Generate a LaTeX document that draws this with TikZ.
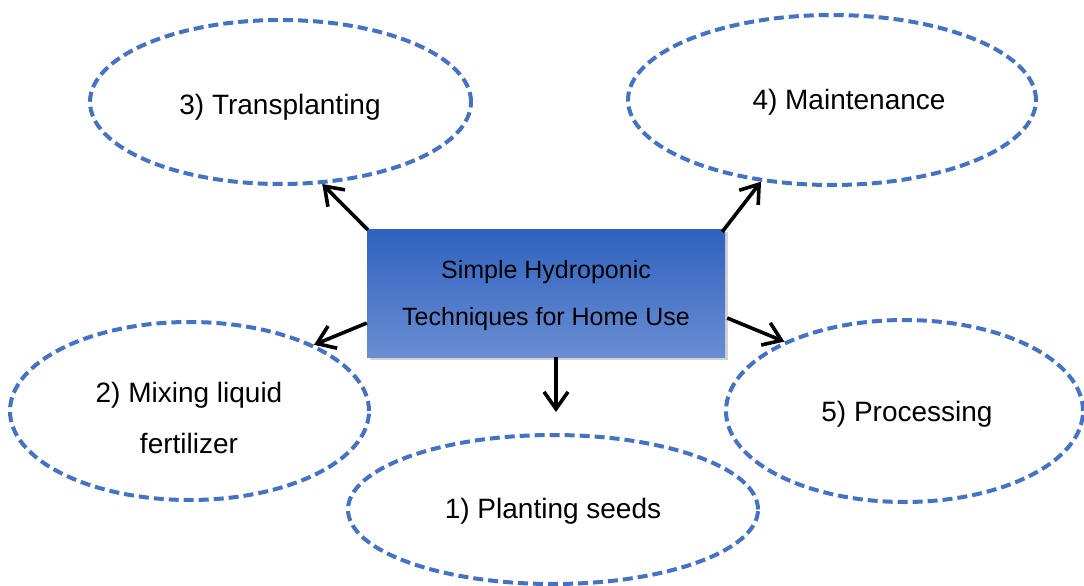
\documentclass[tikz,border=0pt]{standalone}
\usepackage{fontspec}
\setmainfont{Liberation Sans}
\usetikzlibrary{arrows.meta,shapes.geometric,shadows}
\definecolor{dashblue}{HTML}{4472C4}
\definecolor{boxtop}{HTML}{2E62BE}
\definecolor{boxbot}{HTML}{6A8DD3}
\tikzset{
  oval/.style={ellipse, draw=dashblue, line width=4pt, dash pattern=on 10pt off 5pt, inner sep=0pt},
  lbl/.style={anchor=base, align=center, font=\fontsize{28}{51}\selectfont, inner sep=0pt},
  centerbox/.style={rectangle, inner sep=0pt, top color=boxtop, bottom color=boxbot,
    drop shadow={shadow xshift=2.5pt, shadow yshift=-3pt, opacity=0.35}},
  ctext/.style={anchor=base, align=center, font=\fontsize{25}{47}\selectfont, inner sep=0pt},
  arr/.style={line width=3.6pt, -{Straight Barb[length=17pt,width=24pt,line width=3.6pt]}}
}
\begin{document}
\begin{tikzpicture}[x=1pt,y=-1pt]
\useasboundingbox (0,0) rectangle (1084,586);
% ellipses
\node[oval, minimum width=381pt, minimum height=164pt] (trans) at (280.5,102) {};
\node[oval, minimum width=408pt, minimum height=170pt] (maint) at (832,100) {};
\node[oval, minimum width=359pt, minimum height=178pt] (mix) at (189.5,411) {};
\node[oval, minimum width=357pt, minimum height=182pt] (proc) at (904.5,411) {};
\node[oval, minimum width=410pt, minimum height=149pt] (plant) at (553,509.5) {};
% labels
\node[lbl] (ttrans) at (280,114) {3) Transplanting};
\node[lbl] (tmaint) at (849,110) {4) Maintenance};
\node[lbl] (tmix) at (189,453) {2) Mixing liquid\\fertilizer};
\node[lbl] (tproc) at (907,421) {5) Processing};
\node[lbl] (tplant) at (553,518) {1) Planting seeds};
% centre box
\node[centerbox, minimum width=358pt, minimum height=128pt] (box) at (546,293) {};
\node[ctext] (tbox) at (546,325) {Simple Hydroponic\\Techniques for Home Use};
% arrows
\coordinate (tip1) at (556,412);
\draw[arr] ([shift={(1pt,-1pt)}]box.north west) -- (trans.-63);
\draw[arr] ([shift={(-3pt,-3pt)}]box.north east) -- (maint.-131);
\draw[arr] ([yshift=-30pt]box.west) -- (mix.28);
\draw[arr] ([xshift=2pt,yshift=-25pt]box.east) -- (proc.150);
\draw[arr] ([xshift=10pt]box.south) -- (tip1);
\end{tikzpicture}
\end{document}
